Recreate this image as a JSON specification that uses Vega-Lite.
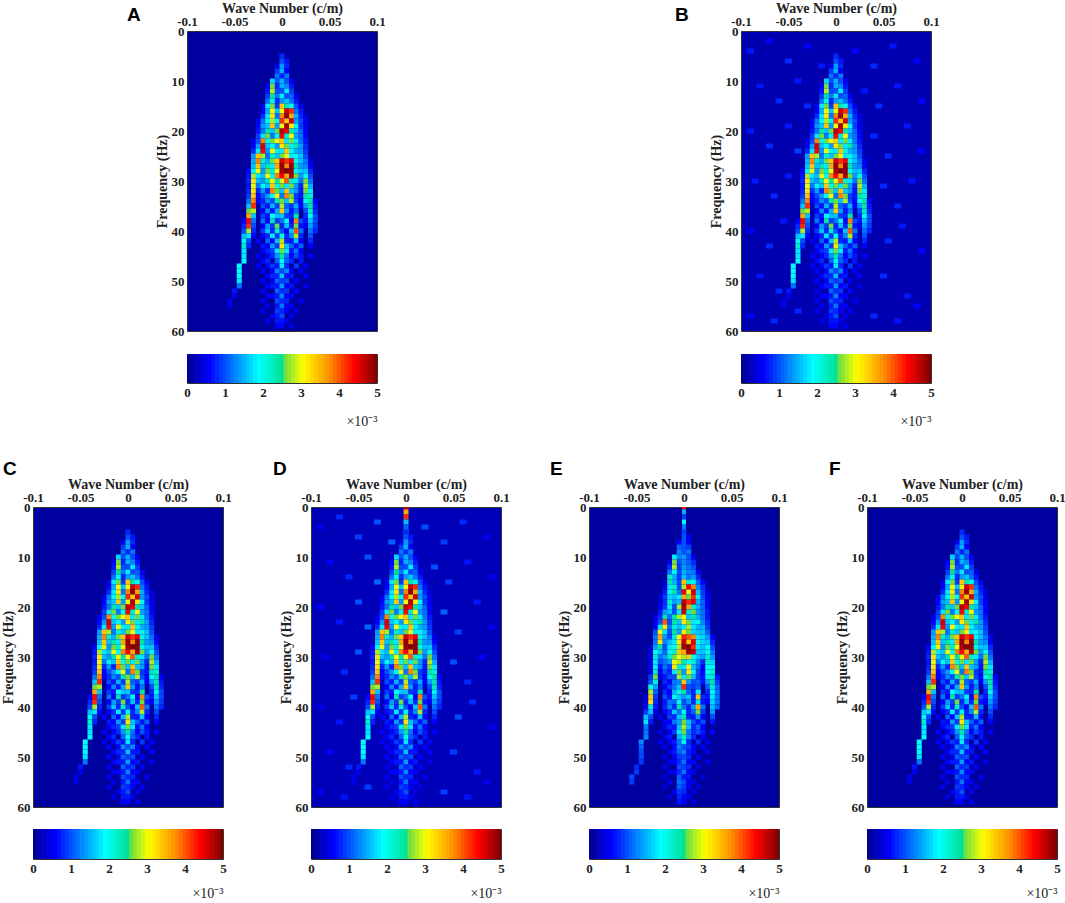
{
"$schema":"https://vega.github.io/schema/vega-lite/v6.json",
"background":"white",
"padding":{"left":0,"top":0,"right":0,"bottom":0},
"config":{
"view":{"stroke":"#333","strokeWidth":1,"fill":"#00009e"},
"axis":{"labelFont":"Liberation Serif","labelFontWeight":"bold","labelFontSize":13,"labelColor":"#222","titleFont":"Liberation Serif","titleFontWeight":"bold","titleFontSize":14,"titleColor":"#222","grid":false,"domain":false,"ticks":false,"labelPadding":3,"labelOverlap":false,"labelFlush":false},
"title":{"font":"Liberation Sans","fontWeight":"bold","fontSize":19,"color":"#000","anchor":"start","offset":0,"frame":"group"},
"concat":{"spacing":0}
},
"datasets":{
"bar":[{"v":0},{"v":0.1},{"v":0.2},{"v":0.3},{"v":0.4},{"v":0.5},{"v":0.6},{"v":0.7},{"v":0.8},{"v":0.9},{"v":1},{"v":1.1},{"v":1.2},{"v":1.3},{"v":1.4},{"v":1.5},{"v":1.6},{"v":1.7},{"v":1.8},{"v":1.9},{"v":2},{"v":2.1},{"v":2.2},{"v":2.3},{"v":2.4},{"v":2.5},{"v":2.6},{"v":2.7},{"v":2.8},{"v":2.9},{"v":3},{"v":3.1},{"v":3.2},{"v":3.3},{"v":3.4},{"v":3.5},{"v":3.6},{"v":3.7},{"v":3.8},{"v":3.9},{"v":4},{"v":4.1},{"v":4.2},{"v":4.3},{"v":4.4},{"v":4.5},{"v":4.6},{"v":4.7},{"v":4.8},{"v":4.9},{"v":5}],
"top":[{"k":0,"f":0,"d":4.6,"e":4.4},{"k":0,"f":1,"d":3.6,"e":1.5},{"k":0,"f":2,"d":4.2,"e":0.9},{"k":0,"f":3,"d":1.6,"e":1.9},{"k":0,"f":4,"d":1.1,"e":1.2},{"k":0,"f":5,"d":1.4,"e":1.5},{"k":0,"f":6,"d":1.2,"e":1.3},{"k":0,"f":7,"d":1.5,"e":1.5},{"k":0,"f":8,"d":1.3,"e":1.3},{"k":0,"f":9,"d":1.5,"e":1.4}],
"noise":[{"k":-0.09,"f":4,"b":0.7,"d":0.5},{"k":-0.07,"f":2,"b":0.6,"d":0.8},{"k":-0.05,"f":6,"b":0.8,"d":0.9},{"k":-0.03,"f":3,"b":0.6,"d":1},{"k":-0.015,"f":7,"b":0.7,"d":1.1},{"k":0.02,"f":4,"b":0.6,"d":1},{"k":0.04,"f":7,"b":0.8,"d":0.9},{"k":0.06,"f":3,"b":0.7,"d":0.8},{"k":0.085,"f":6,"b":0.6,"d":0.5},{"k":-0.08,"f":11,"b":0.7,"d":0.6},{"k":-0.06,"f":14,"b":0.8,"d":0.8},{"k":-0.04,"f":10,"b":0.7,"d":1},{"k":-0.03,"f":15,"b":0.8,"d":1.1},{"k":0.03,"f":12,"b":0.7,"d":1},{"k":0.045,"f":15,"b":0.8,"d":0.9},{"k":0.065,"f":11,"b":0.7,"d":0.7},{"k":0.09,"f":14,"b":0.6,"d":0.5},{"k":-0.09,"f":20,"b":0.7,"d":0.6},{"k":-0.07,"f":23,"b":0.8,"d":0.7},{"k":-0.05,"f":19,"b":0.7,"d":1},{"k":-0.04,"f":24,"b":0.9,"d":1.1},{"k":0.04,"f":21,"b":0.8,"d":1.1},{"k":0.055,"f":25,"b":0.8,"d":0.9},{"k":0.075,"f":19,"b":0.7,"d":0.7},{"k":0.09,"f":24,"b":0.6,"d":0.5},{"k":-0.085,"f":30,"b":0.7,"d":0.5},{"k":-0.065,"f":33,"b":0.8,"d":0.8},{"k":-0.05,"f":29,"b":0.7,"d":1},{"k":0.05,"f":31,"b":0.8,"d":1},{"k":0.065,"f":35,"b":0.8,"d":0.8},{"k":0.08,"f":30,"b":0.7,"d":0.6},{"k":-0.09,"f":40,"b":0.6,"d":0.5},{"k":-0.07,"f":43,"b":0.8,"d":0.7},{"k":-0.055,"f":38,"b":0.7,"d":0.9},{"k":0.055,"f":42,"b":0.8,"d":1},{"k":0.07,"f":39,"b":0.7,"d":0.8},{"k":0.09,"f":44,"b":0.6,"d":0.5},{"k":-0.08,"f":49,"b":0.7,"d":0.6},{"k":-0.06,"f":52,"b":0.8,"d":0.8},{"k":0.05,"f":49,"b":0.8,"d":0.9},{"k":0.075,"f":53,"b":0.7,"d":0.7},{"k":-0.09,"f":57,"b":0.6,"d":0.5},{"k":-0.065,"f":58,"b":0.8,"d":0.7},{"k":-0.04,"f":56,"b":0.8,"d":0.9},{"k":0.04,"f":57,"b":0.8,"d":0.9},{"k":0.065,"f":58,"b":0.7,"d":0.7},{"k":0.085,"f":55,"b":0.6,"d":0.5}],
"main":[
{"k":0,"f":5,"a":0.8,"e":0.9},
{"k":0,"f":6,"a":1,"e":1},{"k":0.005,"f":6,"a":0.7,"e":0.5},
{"k":-0.005,"f":7,"a":0.5,"e":0.6},{"k":0,"f":7,"a":1.4,"e":1},{"k":0.005,"f":7,"a":0.8,"e":0.6},
{"k":-0.005,"f":8,"a":0.9,"e":1.1},{"k":0,"f":8,"a":1.5,"e":1},{"k":0.005,"f":8,"a":0.6,"e":0.9},
{"k":-0.005,"f":9,"a":1.2,"e":1.3},{"k":0,"f":9,"a":0.8,"e":1},{"k":0.005,"f":9,"a":1.2,"e":1.2},
{"k":-0.01,"f":10,"a":1.7,"e":1.8},{"k":-0.005,"f":10,"a":1,"e":1.3},{"k":0,"f":10,"a":1.5,"e":1.4},{"k":0.005,"f":10,"a":1,"e":1},{"k":0.01,"f":10,"a":0.5,"e":0.5},
{"k":-0.015,"f":11,"a":0.6,"e":0.5},{"k":-0.01,"f":11,"a":2.6,"e":2.6},{"k":-0.005,"f":11,"a":0.8,"e":1},{"k":0,"f":11,"a":1.5,"e":1.3},{"k":0.005,"f":11,"a":1.3,"e":1.1},{"k":0.01,"f":11,"a":0.7,"e":0.8},
{"k":-0.015,"f":12,"a":0.7,"e":0.8},{"k":-0.01,"f":12,"a":2.8,"e":2.8},{"k":-0.005,"f":12,"a":1,"e":0.9},{"k":0,"f":12,"a":1,"e":1.4},{"k":0.005,"f":12,"a":1.8,"e":1.2},{"k":0.01,"f":12,"a":0.9,"e":1},
{"k":-0.015,"f":13,"a":0.9,"e":1.2},{"k":-0.01,"f":13,"a":2.5,"e":2},{"k":-0.005,"f":13,"a":1.2,"e":1},{"k":0,"f":13,"a":1.8,"e":1.5},{"k":0.005,"f":13,"a":1,"e":1.3},{"k":0.01,"f":13,"a":1.1,"e":1.2},{"k":0.015,"f":13,"a":0.5,"e":0.6},
{"k":-0.015,"f":14,"a":1.2,"e":2.2},{"k":-0.01,"f":14,"a":2,"e":1.5},{"k":-0.005,"f":14,"a":0.8,"e":0.9},{"k":0,"f":14,"a":1.4,"e":1.6},{"k":0.005,"f":14,"a":1.6,"e":1.2},{"k":0.01,"f":14,"a":1.2,"e":1.4},{"k":0.015,"f":14,"a":0.7,"e":0.8},
{"k":-0.02,"f":15,"a":0.5,"e":0.4},{"k":-0.015,"f":15,"a":1.8,"e":2.4},{"k":-0.01,"f":15,"a":2.6,"e":1.5},{"k":-0.005,"f":15,"a":0.9,"e":1},{"k":0,"f":15,"a":3.4,"e":3.4},{"k":0.005,"f":15,"a":2.4,"e":2.2},{"k":0.01,"f":15,"a":2,"e":2},{"k":0.015,"f":15,"a":1,"e":1.1},{"k":0.02,"f":15,"a":0.5,"e":0.6},
{"k":-0.02,"f":16,"a":0.6,"e":0.5},{"k":-0.015,"f":16,"a":1.5,"e":1.8},{"k":-0.01,"f":16,"a":3,"e":2.2},{"k":-0.005,"f":16,"a":1.6,"e":1},{"k":0,"f":16,"a":3,"e":2.8},{"k":0.005,"f":16,"a":4.6,"e":4.4},{"k":0.01,"f":16,"a":4.2,"e":3.8},{"k":0.015,"f":16,"a":1.2,"e":1.3},{"k":0.02,"f":16,"a":0.7,"e":0.8},
{"k":-0.02,"f":17,"a":0.8,"e":0.7},{"k":-0.015,"f":17,"a":1.8,"e":2},{"k":-0.01,"f":17,"a":3.2,"e":2.4},{"k":-0.005,"f":17,"a":1.2,"e":1.2},{"k":0,"f":17,"a":3.8,"e":4.5},{"k":0.005,"f":17,"a":4.9,"e":3},{"k":0.01,"f":17,"a":3.6,"e":4.6},{"k":0.015,"f":17,"a":1.5,"e":1.6},{"k":0.02,"f":17,"a":0.8,"e":0.9},{"k":0.025,"f":17,"a":0.4,"e":0.4},
{"k":-0.025,"f":18,"a":0.5,"e":0.4},{"k":-0.02,"f":18,"a":1.2,"e":0.9},{"k":-0.015,"f":18,"a":2,"e":1.7},{"k":-0.01,"f":18,"a":2.8,"e":1.6},{"k":-0.005,"f":18,"a":2,"e":1.8},{"k":0,"f":18,"a":4.2,"e":3.6},{"k":0.005,"f":18,"a":3.4,"e":2.6},{"k":0.01,"f":18,"a":4.6,"e":4.2},{"k":0.015,"f":18,"a":1.4,"e":2},{"k":0.02,"f":18,"a":1,"e":1},{"k":0.025,"f":18,"a":0.5,"e":0.5},
{"k":-0.025,"f":19,"a":0.6,"e":0.4},{"k":-0.02,"f":19,"a":1.4,"e":0.8},{"k":-0.015,"f":19,"a":1.6,"e":2.2},{"k":-0.01,"f":19,"a":3.4,"e":1.4},{"k":-0.005,"f":19,"a":1.4,"e":1.6},{"k":0,"f":19,"a":3,"e":4.7},{"k":0.005,"f":19,"a":4.8,"e":4.2},{"k":0.01,"f":19,"a":3.2,"e":4.5},{"k":0.015,"f":19,"a":2,"e":1.5},{"k":0.02,"f":19,"a":0.9,"e":1.1},{"k":0.025,"f":19,"a":0.5,"e":0.5},
{"k":-0.025,"f":20,"a":0.7,"e":0.5},{"k":-0.02,"f":20,"a":1.2,"e":0.9},{"k":-0.015,"f":20,"a":2.4,"e":1.8},{"k":-0.01,"f":20,"a":1.6,"e":1},{"k":-0.005,"f":20,"a":2.6,"e":2.8},{"k":0,"f":20,"a":4.7,"e":4.8},{"k":0.005,"f":20,"a":4.4,"e":3.6},{"k":0.01,"f":20,"a":2.4,"e":2.2},{"k":0.015,"f":20,"a":1.6,"e":1.5},{"k":0.02,"f":20,"a":1.1,"e":1.1},{"k":0.025,"f":20,"a":0.6,"e":0.6},
{"k":-0.025,"f":21,"a":0.9,"e":0.7},{"k":-0.02,"f":21,"a":1.8,"e":1.4},{"k":-0.015,"f":21,"a":2.6,"e":1.6},{"k":-0.01,"f":21,"a":1.2,"e":1},{"k":-0.005,"f":21,"a":2,"e":1.8},{"k":0,"f":21,"a":4.4,"e":4.6},{"k":0.005,"f":21,"a":2.2,"e":2.2},{"k":0.01,"f":21,"a":3,"e":2.6},{"k":0.015,"f":21,"a":1.4,"e":1.4},{"k":0.02,"f":21,"a":1.2,"e":1.2},{"k":0.025,"f":21,"a":0.6,"e":0.7},
{"k":-0.03,"f":22,"a":0.5,"e":0.4},{"k":-0.025,"f":22,"a":1,"e":0.8},{"k":-0.02,"f":22,"a":3.8,"e":2.4},{"k":-0.015,"f":22,"a":2,"e":1.2},{"k":-0.01,"f":22,"a":2.6,"e":2.4},{"k":-0.005,"f":22,"a":3,"e":2.8},{"k":0,"f":22,"a":3.4,"e":3},{"k":0.005,"f":22,"a":1.8,"e":1.6},{"k":0.01,"f":22,"a":2.6,"e":2.4},{"k":0.015,"f":22,"a":1.8,"e":1.5},{"k":0.02,"f":22,"a":1.2,"e":1.2},{"k":0.025,"f":22,"a":0.7,"e":0.7},
{"k":-0.03,"f":23,"a":0.6,"e":0.4},{"k":-0.025,"f":23,"a":1.4,"e":1},{"k":-0.02,"f":23,"a":4.6,"e":4},{"k":-0.015,"f":23,"a":1.6,"e":1},{"k":-0.01,"f":23,"a":2,"e":2.4},{"k":-0.005,"f":23,"a":1.4,"e":1.6},{"k":0,"f":23,"a":3.2,"e":3.2},{"k":0.005,"f":23,"a":2.6,"e":2.6},{"k":0.01,"f":23,"a":1.8,"e":1.8},{"k":0.015,"f":23,"a":2.4,"e":2},{"k":0.02,"f":23,"a":1.4,"e":1.3},{"k":0.025,"f":23,"a":0.8,"e":0.8},
{"k":-0.03,"f":24,"a":0.8,"e":0.6},{"k":-0.025,"f":24,"a":1.8,"e":1.8},{"k":-0.02,"f":24,"a":4.4,"e":3.2},{"k":-0.015,"f":24,"a":1.4,"e":1.2},{"k":-0.01,"f":24,"a":3,"e":2.2},{"k":-0.005,"f":24,"a":2,"e":1.6},{"k":0,"f":24,"a":1.8,"e":2},{"k":0.005,"f":24,"a":3.4,"e":2.8},{"k":0.01,"f":24,"a":2,"e":1.8},{"k":0.015,"f":24,"a":1.5,"e":1.5},{"k":0.02,"f":24,"a":1.4,"e":1.5},{"k":0.025,"f":24,"a":0.9,"e":0.9},
{"k":-0.03,"f":25,"a":1.4,"e":1},{"k":-0.025,"f":25,"a":3.4,"e":3},{"k":-0.02,"f":25,"a":2.8,"e":1.8},{"k":-0.015,"f":25,"a":1.2,"e":1},{"k":-0.01,"f":25,"a":2.2,"e":2.4},{"k":-0.005,"f":25,"a":1.6,"e":1.4},{"k":0,"f":25,"a":2.6,"e":3},{"k":0.005,"f":25,"a":3,"e":2.6},{"k":0.01,"f":25,"a":1.8,"e":1.7},{"k":0.015,"f":25,"a":2,"e":1.6},{"k":0.02,"f":25,"a":1.6,"e":1.6},{"k":0.025,"f":25,"a":1,"e":1.1},
{"k":-0.03,"f":26,"a":1.5,"e":1.2},{"k":-0.025,"f":26,"a":3.8,"e":3.6},{"k":-0.02,"f":26,"a":2.2,"e":1.4},{"k":-0.015,"f":26,"a":1.5,"e":1},{"k":-0.01,"f":26,"a":2.6,"e":2.2},{"k":-0.005,"f":26,"a":3.4,"e":3},{"k":0,"f":26,"a":4.6,"e":4.2},{"k":0.005,"f":26,"a":4.2,"e":4},{"k":0.01,"f":26,"a":4.5,"e":3.8},{"k":0.015,"f":26,"a":2,"e":1.8},{"k":0.02,"f":26,"a":1.6,"e":1.7},{"k":0.025,"f":26,"a":1.2,"e":1.4},{"k":0.03,"f":26,"a":0.5,"e":0.6},
{"k":-0.03,"f":27,"a":1.6,"e":1.2},{"k":-0.025,"f":27,"a":3.4,"e":3.2},{"k":-0.02,"f":27,"a":1.6,"e":1.3},{"k":-0.015,"f":27,"a":2.4,"e":1.6},{"k":-0.01,"f":27,"a":1.8,"e":1.8},{"k":-0.005,"f":27,"a":3.6,"e":3.2},{"k":0,"f":27,"a":4.9,"e":4.6},{"k":0.005,"f":27,"a":3.8,"e":3.4},{"k":0.01,"f":27,"a":4.9,"e":4.5},{"k":0.015,"f":27,"a":2.4,"e":2},{"k":0.02,"f":27,"a":1.4,"e":1.7},{"k":0.025,"f":27,"a":1.3,"e":1.6},{"k":0.03,"f":27,"a":0.6,"e":0.8},
{"k":-0.035,"f":28,"a":0.6,"e":0.4},{"k":-0.03,"f":28,"a":2,"e":1.4},{"k":-0.025,"f":28,"a":3,"e":2.4},{"k":-0.02,"f":28,"a":1.4,"e":1},{"k":-0.015,"f":28,"a":2.6,"e":1.8},{"k":-0.01,"f":28,"a":2.2,"e":2},{"k":-0.005,"f":28,"a":3,"e":2.8},{"k":0,"f":28,"a":4.8,"e":4.8},{"k":0.005,"f":28,"a":5,"e":4.9},{"k":0.01,"f":28,"a":4.9,"e":4.2},{"k":0.015,"f":28,"a":2,"e":1.8},{"k":0.02,"f":28,"a":1.6,"e":1.6},{"k":0.025,"f":28,"a":1.6,"e":1.9},{"k":0.03,"f":28,"a":0.8,"e":1},
{"k":-0.035,"f":29,"a":0.7,"e":0.4},{"k":-0.03,"f":29,"a":2.8,"e":2},{"k":-0.025,"f":29,"a":1.8,"e":1.6},{"k":-0.02,"f":29,"a":1.6,"e":1.1},{"k":-0.015,"f":29,"a":3,"e":2},{"k":-0.01,"f":29,"a":2,"e":2.2},{"k":-0.005,"f":29,"a":3.8,"e":3.4},{"k":0,"f":29,"a":4.4,"e":3.6},{"k":0.005,"f":29,"a":3.6,"e":4.8},{"k":0.01,"f":29,"a":4.8,"e":4.7},{"k":0.015,"f":29,"a":2.6,"e":1.6},{"k":0.02,"f":29,"a":1.4,"e":1.6},{"k":0.025,"f":29,"a":2,"e":2},{"k":0.03,"f":29,"a":1,"e":1.2},
{"k":-0.035,"f":30,"a":0.8,"e":0.5},{"k":-0.03,"f":30,"a":3.2,"e":2.2},{"k":-0.025,"f":30,"a":1.6,"e":1.2},{"k":-0.02,"f":30,"a":1.4,"e":1.4},{"k":-0.015,"f":30,"a":2.4,"e":2.2},{"k":-0.01,"f":30,"a":3,"e":2.6},{"k":-0.005,"f":30,"a":2.4,"e":3},{"k":0,"f":30,"a":3,"e":2.8},{"k":0.005,"f":30,"a":4,"e":3.4},{"k":0.01,"f":30,"a":2.2,"e":2},{"k":0.015,"f":30,"a":1.8,"e":1.6},{"k":0.02,"f":30,"a":1.2,"e":1.4},{"k":0.025,"f":30,"a":2.6,"e":2.2},{"k":0.03,"f":30,"a":1.2,"e":1.4},
{"k":-0.035,"f":31,"a":0.7,"e":0.5},{"k":-0.03,"f":31,"a":3,"e":1.8},{"k":-0.025,"f":31,"a":1.2,"e":1},{"k":-0.02,"f":31,"a":2,"e":1.2},{"k":-0.015,"f":31,"a":1.6,"e":1.4},{"k":-0.01,"f":31,"a":3.4,"e":3},{"k":-0.005,"f":31,"a":2,"e":2.8},{"k":0,"f":31,"a":2.6,"e":2.4},{"k":0.005,"f":31,"a":1.8,"e":2},{"k":0.01,"f":31,"a":2.6,"e":2.2},{"k":0.015,"f":31,"a":1.4,"e":1.3},{"k":0.02,"f":31,"a":0.8,"e":0.8},{"k":0.025,"f":31,"a":2.8,"e":2.2},{"k":0.03,"f":31,"a":1.5,"e":1.7},
{"k":-0.035,"f":32,"a":0.8,"e":0.5},{"k":-0.03,"f":32,"a":3.2,"e":1.8},{"k":-0.025,"f":32,"a":0.8,"e":0.7},{"k":-0.02,"f":32,"a":1.4,"e":1.2},{"k":-0.015,"f":32,"a":0.8,"e":0.9},{"k":-0.01,"f":32,"a":3.8,"e":3.2},{"k":-0.005,"f":32,"a":2.6,"e":2.2},{"k":0,"f":32,"a":1.6,"e":1.8},{"k":0.005,"f":32,"a":3.4,"e":3},{"k":0.01,"f":32,"a":1.6,"e":1.6},{"k":0.015,"f":32,"a":1.4,"e":1.2},{"k":0.02,"f":32,"a":0.7,"e":0.6},{"k":0.025,"f":32,"a":2.6,"e":2},{"k":0.03,"f":32,"a":1.8,"e":2},
{"k":-0.035,"f":33,"a":0.9,"e":0.5},{"k":-0.03,"f":33,"a":3.4,"e":2.2},{"k":-0.025,"f":33,"a":0.6,"e":0.5},{"k":-0.02,"f":33,"a":1,"e":1},{"k":-0.015,"f":33,"a":1.4,"e":0.8},{"k":-0.01,"f":33,"a":2,"e":1.8},{"k":-0.005,"f":33,"a":3,"e":2.6},{"k":0,"f":33,"a":1.2,"e":1.4},{"k":0.005,"f":33,"a":3.8,"e":3.2},{"k":0.01,"f":33,"a":2.6,"e":2},{"k":0.015,"f":33,"a":0.9,"e":1},{"k":0.02,"f":33,"a":0.7,"e":0.6},{"k":0.025,"f":33,"a":2.4,"e":1.9},{"k":0.03,"f":33,"a":2.2,"e":2.2},
{"k":-0.035,"f":34,"a":1.2,"e":0.9},{"k":-0.03,"f":34,"a":3.8,"e":2.6},{"k":-0.025,"f":34,"a":0.6,"e":0.5},{"k":-0.02,"f":34,"a":0.8,"e":0.7},{"k":-0.015,"f":34,"a":1.3,"e":1},{"k":-0.01,"f":34,"a":1,"e":1},{"k":-0.005,"f":34,"a":2.4,"e":2.8},{"k":0,"f":34,"a":2.6,"e":1.8},{"k":0.005,"f":34,"a":1.6,"e":2.6},{"k":0.01,"f":34,"a":2.8,"e":1.6},{"k":0.015,"f":34,"a":1,"e":0.9},{"k":0.02,"f":34,"a":0.6,"e":0.7},{"k":0.025,"f":34,"a":2,"e":1.8},{"k":0.03,"f":34,"a":2.4,"e":2.2},{"k":0.035,"f":34,"a":0.6,"e":0.7},
{"k":-0.035,"f":35,"a":1.6,"e":1},{"k":-0.03,"f":35,"a":4.2,"e":2.2},{"k":-0.02,"f":35,"a":1,"e":0.8},{"k":-0.015,"f":35,"a":0.7,"e":0.6},{"k":-0.01,"f":35,"a":1.5,"e":1.2},{"k":-0.005,"f":35,"a":0.9,"e":1.3},{"k":0,"f":35,"a":2.8,"e":3.4},{"k":0.005,"f":35,"a":1.1,"e":1.4},{"k":0.01,"f":35,"a":0.9,"e":1},{"k":0.015,"f":35,"a":1.5,"e":1.1},{"k":0.02,"f":35,"a":0.6,"e":0.7},{"k":0.025,"f":35,"a":1.4,"e":1.4},{"k":0.03,"f":35,"a":2.4,"e":2.4},{"k":0.035,"f":35,"a":0.7,"e":0.9},
{"k":-0.035,"f":36,"a":2.6,"e":2},{"k":-0.03,"f":36,"a":2.8,"e":1.4},{"k":-0.02,"f":36,"a":0.6,"e":0.6},{"k":-0.015,"f":36,"a":1.3,"e":0.9},{"k":-0.01,"f":36,"a":0.7,"e":1.2},{"k":-0.005,"f":36,"a":1.5,"e":1.6},{"k":0,"f":36,"a":3.4,"e":4.2},{"k":0.005,"f":36,"a":1.4,"e":1},{"k":0.01,"f":36,"a":0.7,"e":0.9},{"k":0.015,"f":36,"a":1.2,"e":1.1},{"k":0.025,"f":36,"a":1,"e":1.1},{"k":0.03,"f":36,"a":2.3,"e":2.2},{"k":0.035,"f":36,"a":0.8,"e":1.1},
{"k":-0.035,"f":37,"a":3.6,"e":2.8},{"k":-0.03,"f":37,"a":1.6,"e":1.1},{"k":-0.02,"f":37,"a":0.9,"e":0.8},{"k":-0.015,"f":37,"a":0.7,"e":0.6},{"k":-0.01,"f":37,"a":1.9,"e":1.5},{"k":-0.005,"f":37,"a":1.6,"e":2.1},{"k":0,"f":37,"a":1.6,"e":2.4},{"k":0.005,"f":37,"a":0.9,"e":1.1},{"k":0.01,"f":37,"a":0.8,"e":0.8},{"k":0.015,"f":37,"a":2.4,"e":1.8},{"k":0.025,"f":37,"a":0.8,"e":0.8},{"k":0.03,"f":37,"a":2,"e":2},{"k":0.035,"f":37,"a":1,"e":1.2},
{"k":-0.04,"f":38,"a":0.6,"e":0.4},{"k":-0.035,"f":38,"a":4.4,"e":3.4},{"k":-0.03,"f":38,"a":1.2,"e":0.9},{"k":-0.02,"f":38,"a":1.2,"e":1},{"k":-0.015,"f":38,"a":0.6,"e":0.7},{"k":-0.01,"f":38,"a":2.4,"e":2},{"k":-0.005,"f":38,"a":0.9,"e":1.6},{"k":0,"f":38,"a":1.2,"e":1.4},{"k":0.005,"f":38,"a":2,"e":1.6},{"k":0.01,"f":38,"a":0.6,"e":0.8},{"k":0.015,"f":38,"a":3.8,"e":3.4},{"k":0.02,"f":38,"a":1,"e":0.8},{"k":0.025,"f":38,"a":0.7,"e":0.7},{"k":0.03,"f":38,"a":1.6,"e":1.8},{"k":0.035,"f":38,"a":1,"e":1.2},
{"k":-0.04,"f":39,"a":0.8,"e":0.5},{"k":-0.035,"f":39,"a":4.2,"e":3.2},{"k":-0.03,"f":39,"a":1,"e":0.8},{"k":-0.02,"f":39,"a":0.6,"e":0.7},{"k":-0.015,"f":39,"a":1.4,"e":1.2},{"k":-0.01,"f":39,"a":0.9,"e":1.1},{"k":-0.005,"f":39,"a":2.6,"e":2},{"k":0,"f":39,"a":0.8,"e":1},{"k":0.005,"f":39,"a":1.6,"e":1.4},{"k":0.01,"f":39,"a":0.8,"e":0.8},{"k":0.015,"f":39,"a":2.6,"e":2.2},{"k":0.02,"f":39,"a":0.7,"e":0.7},{"k":0.025,"f":39,"a":0.6,"e":0.6},{"k":0.03,"f":39,"a":1.4,"e":1.7},{"k":0.035,"f":39,"a":0.9,"e":1.2},
{"k":-0.04,"f":40,"a":1,"e":0.5},{"k":-0.035,"f":40,"a":2.8,"e":2.2},{"k":-0.03,"f":40,"a":0.8,"e":0.7},{"k":-0.02,"f":40,"a":0.9,"e":0.8},{"k":-0.015,"f":40,"a":1.6,"e":1.3},{"k":-0.01,"f":40,"a":0.8,"e":0.8},{"k":-0.005,"f":40,"a":2.2,"e":2.4},{"k":0,"f":40,"a":1,"e":1.2},{"k":0.005,"f":40,"a":0.6,"e":0.8},{"k":0.01,"f":40,"a":1.6,"e":1.4},{"k":0.015,"f":40,"a":4,"e":3.6},{"k":0.02,"f":40,"a":1.2,"e":1.2},{"k":0.03,"f":40,"a":1.2,"e":1.6},{"k":0.035,"f":40,"a":0.8,"e":1.1},
{"k":-0.04,"f":41,"a":1.6,"e":0.9},{"k":-0.035,"f":41,"a":1.8,"e":1.6},{"k":-0.03,"f":41,"a":0.6,"e":0.5},{"k":-0.02,"f":41,"a":0.6,"e":0.6},{"k":-0.015,"f":41,"a":0.8,"e":0.8},{"k":-0.01,"f":41,"a":1.8,"e":1.6},{"k":-0.005,"f":41,"a":0.9,"e":1.2},{"k":0,"f":41,"a":2,"e":2},{"k":0.005,"f":41,"a":0.8,"e":0.8},{"k":0.01,"f":41,"a":1.3,"e":1.1},{"k":0.015,"f":41,"a":2.8,"e":2.6},{"k":0.02,"f":41,"a":0.8,"e":0.9},{"k":0.03,"f":41,"a":1,"e":1.4},
{"k":-0.04,"f":42,"a":2,"e":1.6},{"k":-0.035,"f":42,"a":1,"e":1},{"k":-0.025,"f":42,"a":0.6,"e":0.5},{"k":-0.015,"f":42,"a":1.1,"e":0.9},{"k":-0.01,"f":42,"a":0.6,"e":0.8},{"k":-0.005,"f":42,"a":1.6,"e":1.6},{"k":0,"f":42,"a":2.8,"e":2.4},{"k":0.005,"f":42,"a":0.8,"e":0.8},{"k":0.01,"f":42,"a":0.7,"e":0.7},{"k":0.015,"f":42,"a":1.6,"e":1.4},{"k":0.02,"f":42,"a":0.6,"e":0.6},{"k":0.03,"f":42,"a":0.8,"e":1},
{"k":-0.04,"f":43,"a":2.2,"e":1.8},{"k":-0.035,"f":43,"a":0.8,"e":0.7},{"k":-0.02,"f":43,"a":0.7,"e":0.6},{"k":-0.015,"f":43,"a":0.6,"e":0.6},{"k":-0.01,"f":43,"a":1.4,"e":1.2},{"k":-0.005,"f":43,"a":0.9,"e":1.4},{"k":0,"f":43,"a":3.2,"e":2.6},{"k":0.005,"f":43,"a":1.6,"e":1.6},{"k":0.01,"f":43,"a":1.1,"e":1},{"k":0.015,"f":43,"a":0.7,"e":0.7},{"k":0.02,"f":43,"a":1.1,"e":1},{"k":0.03,"f":43,"a":0.6,"e":0.7},
{"k":-0.04,"f":44,"a":1.8,"e":1.2},{"k":-0.02,"f":44,"a":0.6,"e":0.5},{"k":-0.015,"f":44,"a":0.8,"e":0.8},{"k":-0.01,"f":44,"a":0.9,"e":0.7},{"k":-0.005,"f":44,"a":1.8,"e":1.6},{"k":0,"f":44,"a":2.6,"e":2.8},{"k":0.005,"f":44,"a":1.8,"e":1.6},{"k":0.01,"f":44,"a":0.7,"e":0.8},{"k":0.015,"f":44,"a":1.2,"e":1.1},{"k":0.02,"f":44,"a":0.6,"e":0.6},
{"k":-0.04,"f":45,"a":1.8,"e":1.2},{"k":-0.025,"f":45,"a":0.6,"e":0.5},{"k":-0.015,"f":45,"a":0.6,"e":0.6},{"k":-0.01,"f":45,"a":0.8,"e":0.9},{"k":-0.005,"f":45,"a":1.4,"e":1.8},{"k":0,"f":45,"a":2.4,"e":2.6},{"k":0.005,"f":45,"a":1.2,"e":1.2},{"k":0.01,"f":45,"a":0.6,"e":0.8},{"k":0.015,"f":45,"a":1,"e":1},{"k":0.02,"f":45,"a":0.7,"e":0.7},{"k":0.03,"f":45,"a":0.6,"e":0.6},
{"k":-0.04,"f":46,"a":1.9,"e":1.3},{"k":-0.02,"f":46,"a":0.6,"e":0.5},{"k":-0.015,"f":46,"a":0.8,"e":0.7},{"k":-0.005,"f":46,"a":1.1,"e":1.5},{"k":0,"f":46,"a":2,"e":2.2},{"k":0.005,"f":46,"a":1.1,"e":1.3},{"k":0.01,"f":46,"a":0.8,"e":0.8},{"k":0.02,"f":46,"a":0.7,"e":0.6},
{"k":-0.045,"f":47,"a":1.9,"e":1.3},{"k":-0.025,"f":47,"a":0.6,"e":0.5},{"k":-0.015,"f":47,"a":0.6,"e":0.6},{"k":-0.01,"f":47,"a":0.9,"e":0.7},{"k":-0.005,"f":47,"a":0.7,"e":1.2},{"k":0,"f":47,"a":1.8,"e":2},{"k":0.005,"f":47,"a":0.8,"e":0.8},{"k":0.015,"f":47,"a":0.9,"e":0.8},{"k":0.025,"f":47,"a":0.6,"e":0.5},
{"k":-0.045,"f":48,"a":1.9,"e":1.1},{"k":-0.02,"f":48,"a":0.6,"e":0.5},{"k":-0.01,"f":48,"a":0.6,"e":0.6},{"k":-0.005,"f":48,"a":1.3,"e":1.3},{"k":0,"f":48,"a":1,"e":1},{"k":0.005,"f":48,"a":1.3,"e":0.9},{"k":0.01,"f":48,"a":0.6,"e":0.6},{"k":0.02,"f":48,"a":0.6,"e":0.6},
{"k":-0.045,"f":49,"a":1.9,"e":1},{"k":-0.015,"f":49,"a":0.6,"e":0.5},{"k":-0.01,"f":49,"a":0.8,"e":0.7},{"k":-0.005,"f":49,"a":0.8,"e":1.1},{"k":0,"f":49,"a":1.6,"e":1.3},{"k":0.005,"f":49,"a":0.7,"e":0.7},{"k":0.01,"f":49,"a":0.7,"e":0.6},{"k":0.025,"f":49,"a":0.6,"e":0.5},
{"k":-0.045,"f":50,"a":1.8,"e":1},{"k":-0.02,"f":50,"a":0.6,"e":0.5},{"k":-0.01,"f":50,"a":0.5,"e":0.5},{"k":-0.005,"f":50,"a":1.1,"e":0.9},{"k":0,"f":50,"a":0.9,"e":1},{"k":0.005,"f":50,"a":1,"e":0.8},{"k":0.015,"f":50,"a":0.6,"e":0.5},
{"k":-0.045,"f":51,"a":1.2,"e":0.9},{"k":-0.015,"f":51,"a":0.6,"e":0.5},{"k":-0.01,"f":51,"a":0.7,"e":0.6},{"k":-0.005,"f":51,"a":0.7,"e":0.8},{"k":0,"f":51,"a":1.4,"e":1.2},{"k":0.005,"f":51,"a":0.6,"e":0.6},{"k":0.01,"f":51,"a":0.7,"e":0.6},{"k":0.025,"f":51,"a":0.5,"e":0.5},
{"k":-0.05,"f":52,"a":0.7,"e":0.8},{"k":-0.02,"f":52,"a":0.5,"e":0.5},{"k":-0.005,"f":52,"a":1.1,"e":1},{"k":0,"f":52,"a":0.8,"e":0.9},{"k":0.005,"f":52,"a":0.9,"e":0.8},{"k":0.015,"f":52,"a":0.6,"e":0.5},
{"k":-0.05,"f":53,"a":0.5,"e":0.9},{"k":-0.015,"f":53,"a":0.6,"e":0.5},{"k":-0.01,"f":53,"a":0.6,"e":0.5},{"k":-0.005,"f":53,"a":0.7,"e":0.8},{"k":0,"f":53,"a":1.3,"e":1.2},{"k":0.005,"f":53,"a":0.6,"e":0.6},{"k":0.01,"f":53,"a":0.6,"e":0.5},
{"k":-0.055,"f":54,"a":0.5,"e":1},{"k":-0.02,"f":54,"a":0.5,"e":0.4},{"k":-0.005,"f":54,"a":1,"e":1.1},{"k":0,"f":54,"a":0.8,"e":0.7},{"k":0.005,"f":54,"a":0.8,"e":0.7},{"k":0.02,"f":54,"a":0.5,"e":0.4},
{"k":-0.055,"f":55,"a":0.5,"e":0.9},{"k":-0.015,"f":55,"a":0.5,"e":0.5},{"k":-0.005,"f":55,"a":0.7,"e":1.2},{"k":0,"f":55,"a":1.2,"e":1},{"k":0.005,"f":55,"a":0.5,"e":0.5},{"k":0.01,"f":55,"a":0.6,"e":0.5},
{"k":-0.02,"f":56,"a":0.5,"e":0.4},{"k":-0.005,"f":56,"a":0.9,"e":1.1},{"k":0,"f":56,"a":0.8,"e":0.9},{"k":0.005,"f":56,"a":0.6,"e":0.6},{"k":0.015,"f":56,"a":0.5,"e":0.4},
{"k":-0.01,"f":57,"a":0.5,"e":0.5},{"k":-0.005,"f":57,"a":0.7,"e":0.9},{"k":0,"f":57,"a":1,"e":0.8},{"k":0.01,"f":57,"a":0.5,"e":0.5},
{"k":-0.015,"f":58,"a":0.5,"e":0.4},{"k":-0.005,"f":58,"a":0.7,"e":0.8},{"k":0,"f":58,"a":0.7,"e":0.6},{"k":0.005,"f":58,"a":0.5,"e":0.5},
{"k":-0.005,"f":59,"a":0.6,"e":0.7},{"k":0,"f":59,"a":0.6,"e":0.6},{"k":0.01,"f":59,"a":0.5,"e":0.4}
]
},
"vconcat":[
{"hconcat":[
{"width":154,"height":1,"data":{"values":[{}]},"mark":{"type":"rule","opacity":0},"encoding":{},"view":{"stroke":null,"fill":null}},
{"spacing":23,"bounds":"flush","vconcat":[
{"title":{"text":"A","dx":-60,"dy":28},"width":190,"height":300,"data":{"name":"main"},"mark":{"type":"rect","width":5,"height":5,"clip":true},
"encoding":{"x":{"field":"k","type":"quantitative","scale":{"domain":[-0.1,0.1],"nice":false},"axis":{"orient":"top","values":[-0.1,-0.05,0,0.05,0.1],"labelExpr":"replace(format(datum.value,'~g'),'−','-')","title":"Wave Number (c/m)","titlePadding":0}},
"y":{"field":"f","type":"quantitative","scale":{"domain":[0,60],"reverse":true,"nice":false},"axis":{"values":[0,10,20,30,40,50,60],"title":"Frequency (Hz)","titlePadding":2}},
"color":{"field":"a","type":"quantitative","legend":null,"scale":{"interpolate":"rgb","domain":[0,0.6,1.9,2.55,2.6,3.05,3.75,4.4,5],"range":["#00008c","#0000ff","#00ffff","#00e08c","#70e040","#ffff00","#ff9000","#ff0000","#800000"]}}}},
{"width":190,"height":29,"view":{"fill":null},"data":{"name":"bar"},"mark":{"type":"rect","width":4.5,"clip":true},
"encoding":{"x":{"field":"v","type":"quantitative","scale":{"domain":[0,5],"nice":false},"axis":{"values":[0,1,2,3,4,5],"title":"×10⁻³","titleAnchor":"end","titleFontWeight":"normal","titleFontSize":14,"titlePadding":15}},
"color":{"field":"v","type":"quantitative","legend":null,"scale":{"interpolate":"rgb","domain":[0,0.6,1.9,2.55,2.6,3.05,3.75,4.4,5],"range":["#00008c","#0000ff","#00ffff","#00e08c","#70e040","#ffff00","#ff9000","#ff0000","#800000"]}}}}
]},
{"width":554,"height":1,"data":{"values":[{}]},"mark":{"type":"rule","opacity":0},"encoding":{},"view":{"stroke":null,"fill":null}},
{"spacing":23,"bounds":"flush","vconcat":[
{"title":{"text":"B","dx":-66,"dy":28},"width":190,"height":300,"view":{"fill":"#0000b0"},
"layer":[{"data":{"name":"noise"},"mark":{"type":"rect","width":7,"height":5,"clip":true},"encoding":{"color":{"field":"b","type":"quantitative","legend":null,"scale":{"interpolate":"rgb","domain":[0,0.6,1.9,2.55,2.6,3.05,3.75,4.4,5],"range":["#00008c","#0000ff","#00ffff","#00e08c","#70e040","#ffff00","#ff9000","#ff0000","#800000"]}}}},
{"data":{"name":"main"},"mark":{"type":"rect","width":5,"height":5,"clip":true},"encoding":{"color":{"field":"a","type":"quantitative","legend":null,"scale":{"interpolate":"rgb","domain":[0,0.6,1.9,2.55,2.6,3.05,3.75,4.4,5],"range":["#00008c","#0000ff","#00ffff","#00e08c","#70e040","#ffff00","#ff9000","#ff0000","#800000"]}}}}],
"encoding":{"x":{"field":"k","type":"quantitative","scale":{"domain":[-0.1,0.1],"nice":false},"axis":{"orient":"top","values":[-0.1,-0.05,0,0.05,0.1],"labelExpr":"replace(format(datum.value,'~g'),'−','-')","title":"Wave Number (c/m)","titlePadding":0}},
"y":{"field":"f","type":"quantitative","scale":{"domain":[0,60],"reverse":true,"nice":false},"axis":{"values":[0,10,20,30,40,50,60],"title":"Frequency (Hz)","titlePadding":2}}}},
{"width":190,"height":29,"view":{"fill":null},"data":{"name":"bar"},"mark":{"type":"rect","width":4.5,"clip":true},
"encoding":{"x":{"field":"v","type":"quantitative","scale":{"domain":[0,5],"nice":false},"axis":{"values":[0,1,2,3,4,5],"title":"×10⁻³","titleAnchor":"end","titleFontWeight":"normal","titleFontSize":14,"titlePadding":15}},
"color":{"field":"v","type":"quantitative","legend":null,"scale":{"interpolate":"rgb","domain":[0,0.6,1.9,2.55,2.6,3.05,3.75,4.4,5],"range":["#00008c","#0000ff","#00ffff","#00e08c","#70e040","#ffff00","#ff9000","#ff0000","#800000"]}}}}
]}
],"spacing":0,"bounds":"flush"},
{"hconcat":[
{"spacing":22,"bounds":"flush","vconcat":[
{"title":{"text":"C","dx":-30,"dy":6},"width":190,"height":300,"data":{"name":"main"},"mark":{"type":"rect","width":5,"height":5,"clip":true},
"encoding":{"x":{"field":"k","type":"quantitative","scale":{"domain":[-0.1,0.1],"nice":false},"axis":{"orient":"top","values":[-0.1,-0.05,0,0.05,0.1],"labelExpr":"replace(format(datum.value,'~g'),'−','-')","title":"Wave Number (c/m)","titlePadding":0}},
"y":{"field":"f","type":"quantitative","scale":{"domain":[0,60],"reverse":true,"nice":false},"axis":{"values":[0,10,20,30,40,50,60],"title":"Frequency (Hz)","titlePadding":2}},
"color":{"field":"a","type":"quantitative","legend":null,"scale":{"interpolate":"rgb","domain":[0,0.6,1.9,2.55,2.6,3.05,3.75,4.4,5],"range":["#00008c","#0000ff","#00ffff","#00e08c","#70e040","#ffff00","#ff9000","#ff0000","#800000"]}}}},
{"width":190,"height":30,"view":{"fill":null},"data":{"name":"bar"},"mark":{"type":"rect","width":4.5,"clip":true},
"encoding":{"x":{"field":"v","type":"quantitative","scale":{"domain":[0,5],"nice":false},"axis":{"values":[0,1,2,3,4,5],"title":"×10⁻³","titleAnchor":"end","titleFontWeight":"normal","titleFontSize":14,"titlePadding":11}},
"color":{"field":"v","type":"quantitative","legend":null,"scale":{"interpolate":"rgb","domain":[0,0.6,1.9,2.55,2.6,3.05,3.75,4.4,5],"range":["#00008c","#0000ff","#00ffff","#00e08c","#70e040","#ffff00","#ff9000","#ff0000","#800000"]}}}}
]},
{"spacing":22,"bounds":"flush","vconcat":[
{"title":{"text":"D","dx":-38,"dy":6},"width":190,"height":300,"view":{"fill":"#0000b8"},
"layer":[{"data":{"name":"noise"},"mark":{"type":"rect","width":7,"height":5,"clip":true},"encoding":{"color":{"field":"d","type":"quantitative","legend":null,"scale":{"interpolate":"rgb","domain":[0,0.6,1.9,2.55,2.6,3.05,3.75,4.4,5],"range":["#00008c","#0000ff","#00ffff","#00e08c","#70e040","#ffff00","#ff9000","#ff0000","#800000"]}}}},
{"data":{"name":"top"},"mark":{"type":"rect","width":5,"height":5,"clip":true},"encoding":{"color":{"field":"d","type":"quantitative","legend":null,"scale":{"interpolate":"rgb","domain":[0,0.6,1.9,2.55,2.6,3.05,3.75,4.4,5],"range":["#00008c","#0000ff","#00ffff","#00e08c","#70e040","#ffff00","#ff9000","#ff0000","#800000"]}}}},
{"data":{"name":"main"},"mark":{"type":"rect","width":5,"height":5,"clip":true},"encoding":{"color":{"field":"a","type":"quantitative","legend":null,"scale":{"interpolate":"rgb","domain":[0,0.6,1.9,2.55,2.6,3.05,3.75,4.4,5],"range":["#00008c","#0000ff","#00ffff","#00e08c","#70e040","#ffff00","#ff9000","#ff0000","#800000"]}}}}],
"encoding":{"x":{"field":"k","type":"quantitative","scale":{"domain":[-0.1,0.1],"nice":false},"axis":{"orient":"top","values":[-0.1,-0.05,0,0.05,0.1],"labelExpr":"replace(format(datum.value,'~g'),'−','-')","title":"Wave Number (c/m)","titlePadding":0}},
"y":{"field":"f","type":"quantitative","scale":{"domain":[0,60],"reverse":true,"nice":false},"axis":{"values":[0,10,20,30,40,50,60],"title":"Frequency (Hz)","titlePadding":2}}}},
{"width":190,"height":30,"view":{"fill":null},"data":{"name":"bar"},"mark":{"type":"rect","width":4.5,"clip":true},
"encoding":{"x":{"field":"v","type":"quantitative","scale":{"domain":[0,5],"nice":false},"axis":{"values":[0,1,2,3,4,5],"title":"×10⁻³","titleAnchor":"end","titleFontWeight":"normal","titleFontSize":14,"titlePadding":11}},
"color":{"field":"v","type":"quantitative","legend":null,"scale":{"interpolate":"rgb","domain":[0,0.6,1.9,2.55,2.6,3.05,3.75,4.4,5],"range":["#00008c","#0000ff","#00ffff","#00e08c","#70e040","#ffff00","#ff9000","#ff0000","#800000"]}}}}
]},
{"spacing":22,"bounds":"flush","vconcat":[
{"title":{"text":"E","dx":-39,"dy":6},"width":190,"height":300,
"layer":[{"data":{"name":"top"},"mark":{"type":"rect","width":4,"height":5,"clip":true},"encoding":{"color":{"field":"e","type":"quantitative","legend":null,"scale":{"interpolate":"rgb","domain":[0,0.6,1.9,2.55,2.6,3.05,3.75,4.4,5],"range":["#00008c","#0000ff","#00ffff","#00e08c","#70e040","#ffff00","#ff9000","#ff0000","#800000"]}}}},
{"data":{"name":"main"},"mark":{"type":"rect","width":5,"height":5,"clip":true},"encoding":{"color":{"field":"e","type":"quantitative","legend":null,"scale":{"interpolate":"rgb","domain":[0,0.6,1.9,2.55,2.6,3.05,3.75,4.4,5],"range":["#00008c","#0000ff","#00ffff","#00e08c","#70e040","#ffff00","#ff9000","#ff0000","#800000"]}}}}],
"encoding":{"x":{"field":"k","type":"quantitative","scale":{"domain":[-0.1,0.1],"nice":false},"axis":{"orient":"top","values":[-0.1,-0.05,0,0.05,0.1],"labelExpr":"replace(format(datum.value,'~g'),'−','-')","title":"Wave Number (c/m)","titlePadding":0}},
"y":{"field":"f","type":"quantitative","scale":{"domain":[0,60],"reverse":true,"nice":false},"axis":{"values":[0,10,20,30,40,50,60],"title":"Frequency (Hz)","titlePadding":2}}}},
{"width":190,"height":30,"view":{"fill":null},"data":{"name":"bar"},"mark":{"type":"rect","width":4.5,"clip":true},
"encoding":{"x":{"field":"v","type":"quantitative","scale":{"domain":[0,5],"nice":false},"axis":{"values":[0,1,2,3,4,5],"title":"×10⁻³","titleAnchor":"end","titleFontWeight":"normal","titleFontSize":14,"titlePadding":11}},
"color":{"field":"v","type":"quantitative","legend":null,"scale":{"interpolate":"rgb","domain":[0,0.6,1.9,2.55,2.6,3.05,3.75,4.4,5],"range":["#00008c","#0000ff","#00ffff","#00e08c","#70e040","#ffff00","#ff9000","#ff0000","#800000"]}}}}
]},
{"spacing":22,"bounds":"flush","vconcat":[
{"title":{"text":"F","dx":-38,"dy":6},"width":190,"height":300,"data":{"name":"main"},"mark":{"type":"rect","width":5,"height":5,"clip":true},
"encoding":{"x":{"field":"k","type":"quantitative","scale":{"domain":[-0.1,0.1],"nice":false},"axis":{"orient":"top","values":[-0.1,-0.05,0,0.05,0.1],"labelExpr":"replace(format(datum.value,'~g'),'−','-')","title":"Wave Number (c/m)","titlePadding":0}},
"y":{"field":"f","type":"quantitative","scale":{"domain":[0,60],"reverse":true,"nice":false},"axis":{"values":[0,10,20,30,40,50,60],"title":"Frequency (Hz)","titlePadding":2}},
"color":{"field":"a","type":"quantitative","legend":null,"scale":{"interpolate":"rgb","domain":[0,0.6,1.9,2.55,2.6,3.05,3.75,4.4,5],"range":["#00008c","#0000ff","#00ffff","#00e08c","#70e040","#ffff00","#ff9000","#ff0000","#800000"]}}}},
{"width":190,"height":30,"view":{"fill":null},"data":{"name":"bar"},"mark":{"type":"rect","width":4.5,"clip":true},
"encoding":{"x":{"field":"v","type":"quantitative","scale":{"domain":[0,5],"nice":false},"axis":{"values":[0,1,2,3,4,5],"title":"×10⁻³","titleAnchor":"end","titleFontWeight":"normal","titleFontSize":14,"titlePadding":11}},
"color":{"field":"v","type":"quantitative","legend":null,"scale":{"interpolate":"rgb","domain":[0,0.6,1.9,2.55,2.6,3.05,3.75,4.4,5],"range":["#00008c","#0000ff","#00ffff","#00e08c","#70e040","#ffff00","#ff9000","#ff0000","#800000"]}}}}
]}
],"spacing":278,"bounds":"flush"}
],"spacing":476,"bounds":"flush"
}
